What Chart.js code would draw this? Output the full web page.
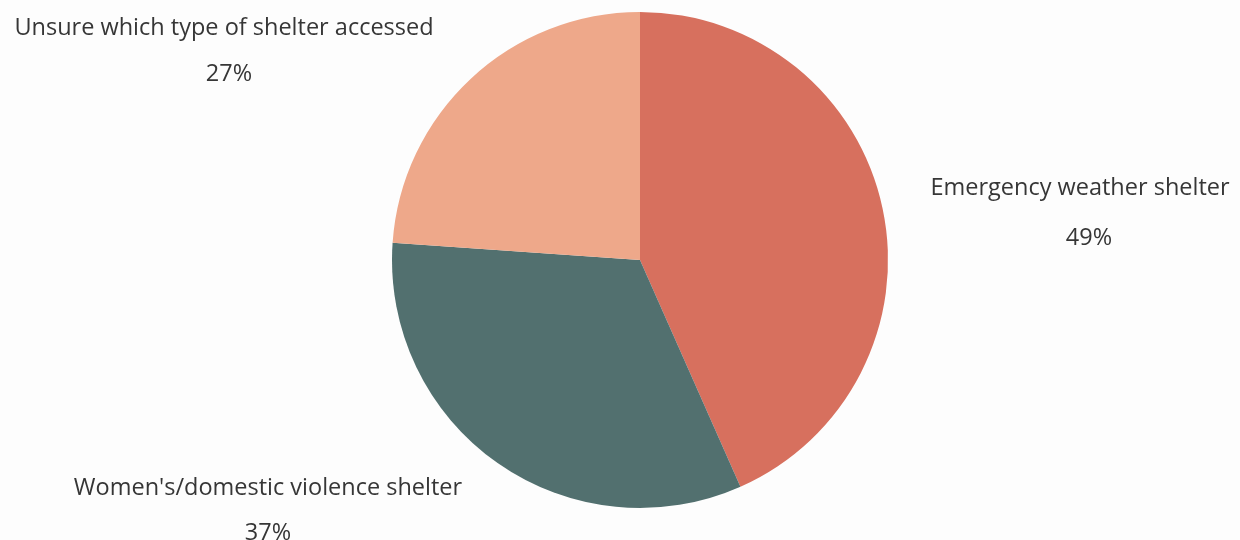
<!DOCTYPE html>
<html>
<head>
<meta charset="utf-8">
<script src="https://cdn.jsdelivr.net/npm/chart.js@4"></script>
<style>
  html, body { margin: 0; padding: 0; background: #fdfdfd; }
  #wrap { width: 1240px; height: 540px; position: relative; }
</style>
</head>
<body>
<div id="wrap"><canvas id="chart" width="1240" height="540"></canvas></div>
<script>
// Shelter types accessed (share of respondents, %)
const categories = ["Emergency weather shelter", "Women's/domestic violence shelter", "Unsure which type of shelter accessed"];
const shares = [49, 37, 27];
const sliceColors = ["#d7705e", "#52706f", "#eea88a"];

// Where each category caption sits: name centre/baseline, percent centre/baseline
const captionSpots = [
  { x: 1080, y: 195, px: 1089, py: 245 },
  { x: 268, y: 495, px: 268, py: 540 },
  { x: 224, y: 35, px: 229, py: 81 }
];

const outsideCaptions = {
  id: 'outsideCaptions',
  afterDraw(chart) {
    const ctx = chart.ctx;
    ctx.save();
    ctx.fillStyle = '#363636';
    ctx.textAlign = 'center';
    ctx.textBaseline = 'alphabetic';
    ctx.font = '23.5px "Open Sans", sans-serif';
    categories.forEach((name, i) => {
      const s = captionSpots[i];
      ctx.fillText(name, s.x, s.y);
      ctx.fillText(shares[i] + '%', s.px, s.py);
    });
    ctx.restore();
  }
};

new Chart(document.getElementById('chart'), {
  type: 'pie',
  data: {
    labels: categories,
    datasets: [{
      data: shares,
      backgroundColor: sliceColors,
      borderWidth: 0
    }]
  },
  options: {
    responsive: false,
    animation: false,
    layout: { padding: { left: 40, right: 0, top: 12, bottom: 32 } },
    plugins: {
      legend: { display: false },
      tooltip: { enabled: false }
    }
  },
  plugins: [outsideCaptions]
});
</script>
</body>
</html>
